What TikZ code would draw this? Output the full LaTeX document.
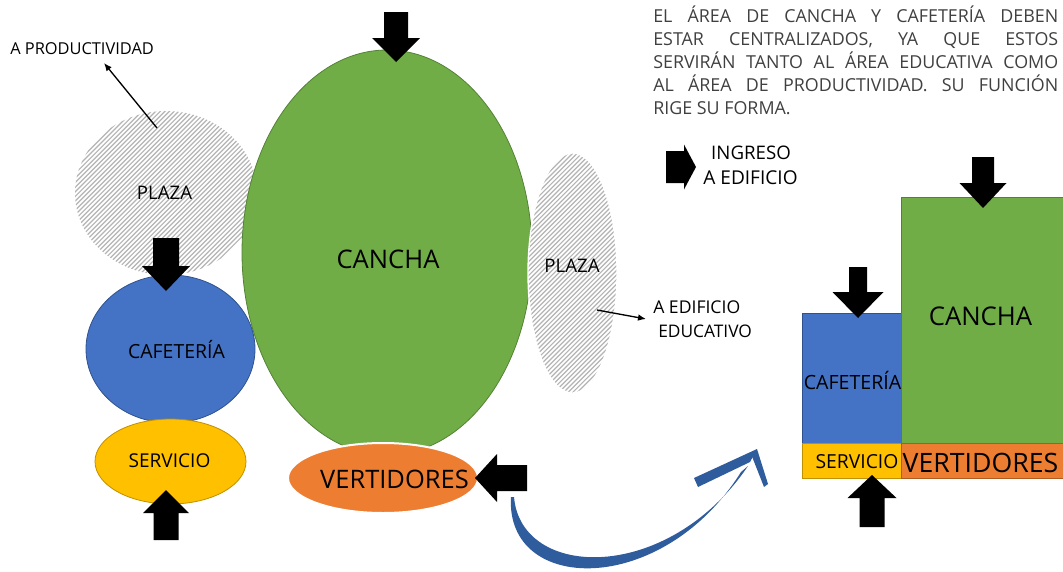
\documentclass[tikz,border=0pt]{standalone}
\usepackage{fontspec}
\setmainfont{Open Sans}
\usetikzlibrary{arrows.meta,shapes.geometric}
\definecolor{canchag}{HTML}{70AD47}
\definecolor{canchab}{HTML}{548235}
\definecolor{cafeb}{HTML}{4472C4}
\definecolor{cafebd}{HTML}{2F528F}
\definecolor{servy}{HTML}{FFC000}
\definecolor{servyd}{HTML}{BF9000}
\definecolor{verto}{HTML}{ED7D31}
\definecolor{vertod}{HTML}{AE5A21}
\definecolor{curveblue}{HTML}{2E5C9C}
\definecolor{hatchgray}{HTML}{B4B4B4}
\definecolor{paragray}{HTML}{404040}
\newcommand\blkarrow[7]{%
  \fill[black, shift={(#1,#2)}, rotate=#3] (0,0) -- (-#5,#6) -- (-#5,#7) -- (-#4,#7) -- (-#4,-#7) -- (-#5,-#7) -- (-#5,-#6) -- cycle;}
\begin{document}
\begin{tikzpicture}[x=0.75pt,y=-0.75pt,
  zone/.style={ellipse, inner sep=0pt, outer sep=0pt},
  box/.style={rectangle, inner sep=0pt, outer sep=0pt, line width=0.6pt},
  hatched/.style={fill=white, path picture={
      \foreach \k in {-48,...,48}
        \draw[hatchgray, line width=0.9pt]
          ([shift={(\k*4.6,0)}]path picture bounding box.center) ++(-170,170) -- ++(340,-340);}},
  lbl/.style={inner sep=0pt, text=black},
  para/.style={inner sep=0pt, text=paragray, font=\fontsize{13.4}{16}\selectfont, anchor=base west},
  thin/.style={line width=1pt, -{Latex[length=6pt,width=5pt]}}]
\useasboundingbox (0,0) rectangle (1063,571);

% ---------- left diagram ----------
\node[zone, hatched, minimum width=136.5pt, minimum height=123pt] (plazaL) at (166,193) {};
\node[zone, fill=canchag, draw=canchab, line width=0.6pt, minimum width=217.5pt, minimum height=303.75pt] (cancha) at (387,252.5) {};
\node[zone, hatched, draw=white, line width=1pt, minimum width=66.75pt, minimum height=180pt] (plazaR) at (572.5,273) {};
\node[zone, fill=cafeb, draw=cafebd, line width=0.6pt, minimum width=126.75pt, minimum height=111pt] (cafe) at (170.5,349) {};
\node[zone, fill=servy, draw=servyd, line width=0.6pt, minimum width=113.25pt, minimum height=63.75pt] (serv) at (170.5,461.5) {};
\node[zone, fill=verto, draw=white, line width=1.5pt, minimum width=142.5pt, minimum height=52.5pt] (vert) at (383,478) {};

\node[lbl, anchor=base west, font=\fontsize{12.3}{14}\selectfont] (tprod) at (10,54) {A PRODUCTIVIDAD};
\node[lbl, anchor=base, font=\fontsize{14}{16}\selectfont] (tplazaL) at (164.5,199) {PLAZA};
\node[lbl, anchor=base, font=\fontsize{19.2}{22}\selectfont] (tcancha) at (388,268) {CANCHA};
\node[lbl, anchor=base, font=\fontsize{14}{16}\selectfont] (tplazaR) at (572,272) {PLAZA};
\node[lbl, anchor=base west, font=\fontsize{13.2}{15}\selectfont] (tedif1) at (653,313) {A EDIFICIO};
\node[lbl, anchor=base west, font=\fontsize{13}{15}\selectfont] (tedif2) at (658,337) {EDUCATIVO};
\node[lbl, anchor=base, font=\fontsize{14.6}{17}\selectfont] (tcafe) at (176.5,358) {CAFETERÍA};
\node[lbl, anchor=base, font=\fontsize{14.3}{17}\selectfont] (tserv) at (169.5,467) {SERVICIO};
\node[lbl, anchor=base, font=\fontsize{19.1}{22}\selectfont] (tvert) at (394.5,488) {VERTIDORES};

% thin arrows
\coordinate (pa1) at (157,128);
\coordinate (pa2) at (104,63);
\draw[thin] (pa1) -- (pa2);
\coordinate (ea1) at (597,310);
\coordinate (ea2) at (646,319);
\draw[thin] (ea1) -- (ea2);

% block arrows (tip x, tip y, rotation, length, head length, head half width, shaft half width)
\blkarrow{396}{62}{-90}{50}{24}{24}{12}
\blkarrow{166}{291}{-90}{53}{25}{24}{13}
\blkarrow{166}{490}{90}{50}{23}{23}{12.5}
\blkarrow{475}{478}{180}{52}{22}{24}{13}

% ---------- paragraph ----------
\node[para] (p1) at (653,22) {\makebox[303.75pt][s]{EL ÁREA DE CANCHA Y CAFETERÍA DEBEN}};
\node[para] (p2) at (653,45) {\makebox[303.75pt][s]{ESTAR CENTRALIZADOS, YA QUE ESTOS}};
\node[para] (p3) at (653,68) {\makebox[303.75pt][s]{SERVIRÁN TANTO AL ÁREA EDUCATIVA COMO}};
\node[para] (p4) at (653,91) {\makebox[303.75pt][s]{AL ÁREA DE PRODUCTIVIDAD. SU FUNCIÓN}};
\node[para] (p5) at (653,114) {RIGE SU FORMA.};

% legend
\blkarrow{696}{167}{0}{30}{12}{22.5}{16}
\node[lbl, anchor=base, font=\fontsize{14}{16}\selectfont] (ting1) at (751,159) {INGRESO};
\node[lbl, anchor=base, font=\fontsize{14.3}{16}\selectfont] (ting2) at (750.5,184) {A EDIFICIO};

% ---------- right diagram ----------
\node[box, fill=cafeb, draw=cafebd, minimum width=74.25pt, minimum height=97.5pt] (cafeR) at (851.5,378) {};
\node[box, fill=canchag, draw=canchab, minimum width=121.5pt, minimum height=184.5pt] (canchaR) at (982,320) {};
\node[box, fill=servy, draw=servyd, minimum width=74.25pt, minimum height=26.25pt] (servR) at (851.5,460.5) {};
\node[box, fill=verto, draw=vertod, minimum width=121.5pt, minimum height=26.25pt] (vertR) at (982,460.5) {};

\node[lbl, anchor=base, font=\fontsize{19.3}{22}\selectfont] (tcanchaR) at (980.5,325) {CANCHA};
\node[lbl, anchor=base, font=\fontsize{14.7}{17}\selectfont] (tcafeR) at (852.5,389) {CAFETERÍA};
\node[lbl, anchor=base, font=\fontsize{14.5}{17}\selectfont] (tservR) at (857,468) {SERVICIO};
\node[lbl, anchor=base, font=\fontsize{20}{23}\selectfont] (tvertR) at (980.5,472) {VERTIDORES};

\blkarrow{983}{208}{-90}{51}{25}{23.5}{11}
\blkarrow{858}{318}{-90}{51}{26}{25.5}{9}
\blkarrow{872}{475}{90}{52}{23}{24.5}{12.5}

% ---------- blue curved arrow ----------
\fill[curveblue] (511,497) .. controls (505,594) and (662,598) .. (741,472)
  -- (748,466) .. controls (668,584) and (521,580) .. (514,497) -- cycle;
\fill[curveblue] (757,449) -- (694,478) -- (698,487) -- (750,462) -- cycle;
\fill[curveblue] (751,454) -- (757,449) -- (768,484) -- (764,487) -- cycle;
\end{tikzpicture}
\end{document}
